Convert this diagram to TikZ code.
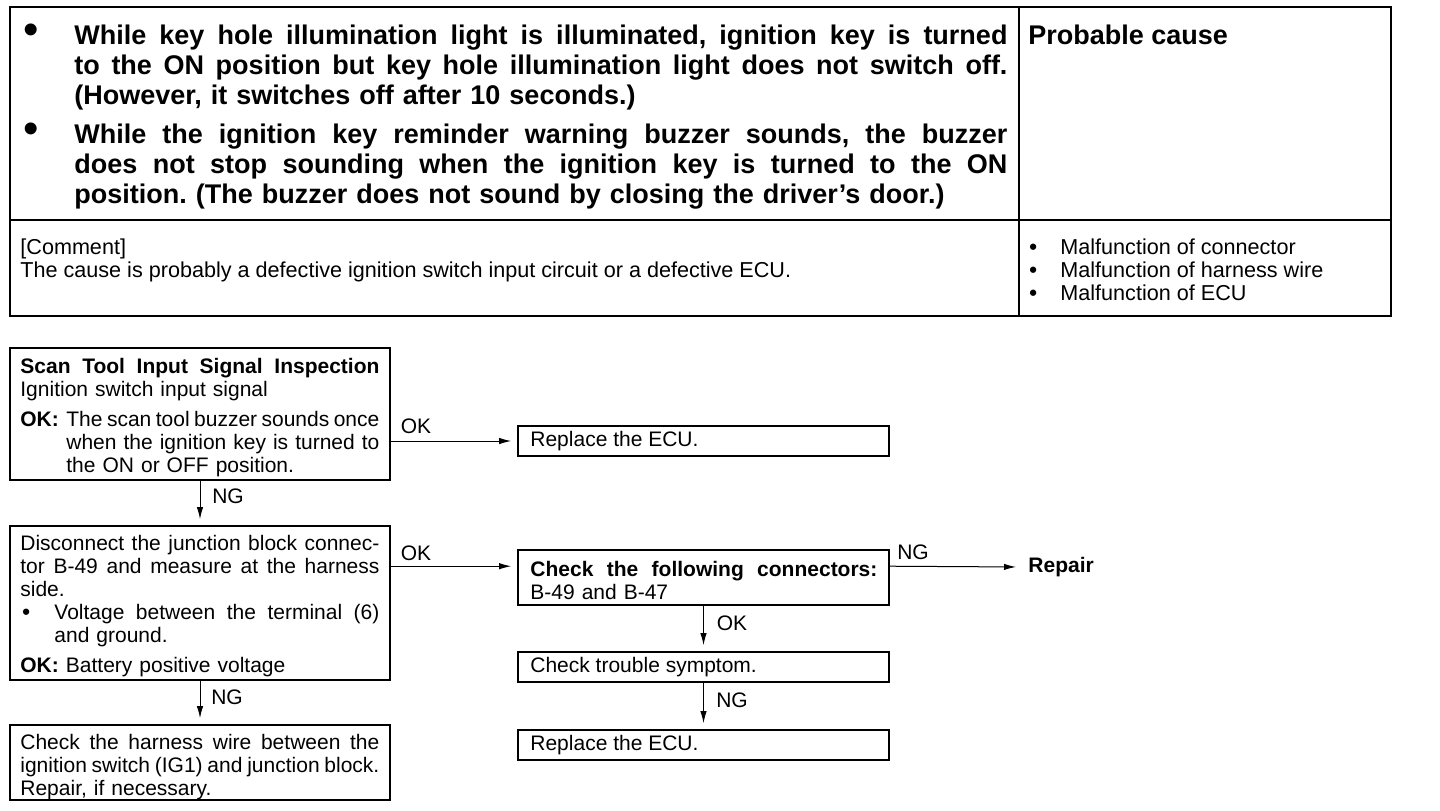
\documentclass[tikz,border=0pt]{standalone}
\usepackage{fontspec}
\setmainfont{Liberation Sans}
\usetikzlibrary{arrows.meta,fit}
\frenchspacing
\newcommand\jl[2][179.5pt]{{\spaceskip=0.278em plus 1fil minus 0.1em\xspaceskip=\spaceskip\makebox[#1][s]{#2}}}
\newcommand\hdfont{\fontsize{13.5}{15}\selectfont\bfseries}
\newcommand\bodyfont{\fontsize{10.5}{11.5}\selectfont}
\newcommand\cmfont{\fontsize{10.8}{11.5}\selectfont}
\newcommand\bigbul{{\fontsize{11}{10}\selectfont\bfseries •}}
\begin{document}
\begin{tikzpicture}[x=0.5pt,y=-0.5pt,
  cell/.style={draw, line width=1pt, inner sep=0pt},
  box/.style={draw, line width=0.8pt, inner sep=0pt},
  txt/.style={inner sep=0pt, anchor=north west, align=left, font=\bodyfont},
  lbl/.style={inner sep=0pt, font=\fontsize{10.5}{12}\selectfont},
  arr/.style={-{Latex[length=6pt,width=3.2pt]}, line width=0.5pt, shorten >=3pt},
  hbul/.style={inner sep=0pt, font=\fontsize{22}{22}\selectfont}
]
\useasboundingbox (0,0) rectangle (1440,810);

% ---- table ----
\node[cell, fit={(10,7) (1019,220)}] (c11) {};
\node[cell, fit={(1019,7) (1391,220)}] (c12) {};
\node[cell, fit={(10,220) (1019,316)}] (c21) {};
\node[cell, fit={(1019,220) (1391,316)}] (c22) {};

\node[hbul] (hb1) at (31,34) {•};
\node[hbul] (hb2) at (31,133) {•};
\node[txt, font=\hdfont, text width=466.5pt] (h1) at (74,24.5)
 {\jl[466.5pt]{While key hole illumination light is illuminated, ignition key is turned}\\
  \jl[466.5pt]{to the ON position but key hole illumination light does not switch off.}\\
  (However, it switches off after 10 seconds.)};
\node[txt, font=\hdfont, text width=466.5pt] (h2) at (74,123.5)
 {\jl[466.5pt]{While the ignition key reminder warning buzzer sounds, the buzzer}\\
  \jl[466.5pt]{does not stop sounding when the ignition key is turned to the ON}\\
  position. (The buzzer does not sound by closing the driver's door.)};
\node[txt, font=\hdfont] (pc) at (1028,24.5) {Probable cause};

\node[txt, font=\cmfont] (cm) at (20,238) {[Comment]\\The cause is probably a defective ignition switch input circuit or a defective ECU.};
\node[txt, font=\cmfont] (pcl) at (1029,238)
 {\makebox[15.5pt][l]{\bigbul}Malfunction of connector\\
  \makebox[15.5pt][l]{\bigbul}Malfunction of harness wire\\
  \makebox[15.5pt][l]{\bigbul}Malfunction of ECU};

% ---- flowchart boxes ----
\node[box, fit={(10,348) (390,480)}] (b1) {};
\node[box, fit={(518,426) (889,456)}] (r1) {};
\node[box, fit={(10,526) (390,680)}] (b2) {};
\node[box, fit={(518,550) (889,605)}] (ck) {};
\node[box, fit={(518,652) (889,682)}] (ts) {};
\node[box, fit={(518,730) (889,760)}] (r2) {};
\node[box, fit={(10,725) (390,800)}] (b3) {};

\node[txt, text width=179.5pt] (t1) at (20,358)
 {\textbf{\jl{Scan Tool Input Signal Inspection}}\\
  Ignition switch input signal\\[3.5pt]
  \makebox[23pt][l]{\textbf{OK:}}\jl[156.5pt]{The scan tool buzzer sounds once}\\
  \hspace*{23pt}\jl[156.5pt]{when the ignition key is turned to}\\
  \hspace*{23pt}the ON or OFF position.};
\node[txt, anchor=west] (tr1) at (530,441) {Replace the ECU.};
\node[txt, text width=179.5pt] (t2) at (20,535)
 {\jl{Disconnect the junction block connec-}\\
  \jl{tor B-49 and measure at the harness}\\
  side.\\
  \makebox[17pt][l]{\hspace{1pt}\bigbul}\jl[162.5pt]{Voltage between the terminal (6)}\\
  \hspace*{17pt}and ground.\\[3.5pt]
  \textbf{OK:} Battery positive voltage};
\node[txt, text width=173.5pt] (tck) at (530,561)
 {\textbf{\jl[173.5pt]{Check the following connectors:}}\\
  B-49 and B-47};
\node[txt, anchor=west] (tts) at (530,667) {Check trouble symptom.};
\node[txt, anchor=west] (tr2) at (530,745) {Replace the ECU.};
\node[txt, text width=179.5pt] (t3) at (20,734)
 {\jl{Check the harness wire between the}\\
  \jl{ignition switch (IG1) and junction block.}\\
  Repair, if necessary.};
\node[inner sep=3pt, anchor=west, font=\fontsize{10.5}{12}\selectfont\bfseries] (rep) at (1022,567) {Repair};

% ---- connectors ----
\coordinate (ckin) at ([yshift=-8.5pt]ck.north west);
\coordinate (ckout) at ([yshift=-8.5pt]ck.north east);
\draw[arr] (b1.east |- r1.west) -- (r1.west);
\draw[arr] (b1.south) -- (b2.north);
\draw[arr] (b2.east |- ckin) -- (ckin);
\draw[arr] (ckout) -- (rep.west);
\draw[arr] (ck.south) -- (ts.north);
\draw[arr] (ts.south) -- (r2.north);
\draw[arr] (b2.south) -- (b3.north);

% ---- labels ----
\node[lbl] (l1) at (416,426) {OK};
\node[lbl] (l2) at (228,496) {NG};
\node[lbl] (l3) at (416,553) {OK};
\node[lbl] (l4) at (913,552) {NG};
\node[lbl] (l5) at (732,623) {OK};
\node[lbl] (l6) at (732,700) {NG};
\node[lbl] (l7) at (227,697) {NG};
\end{tikzpicture}
\end{document}
